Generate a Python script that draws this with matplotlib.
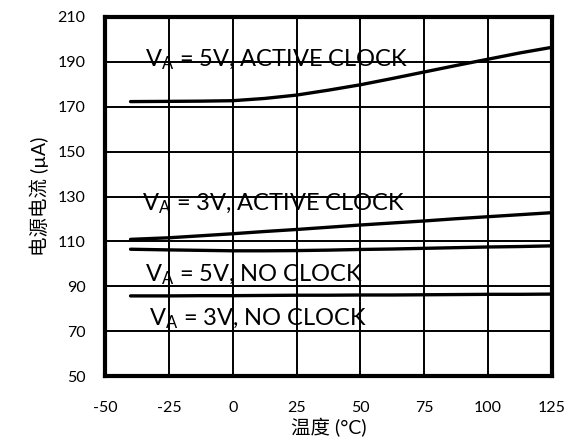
import numpy as np
import matplotlib
matplotlib.use("Agg")
import matplotlib.pyplot as plt

plt.rcParams['font.family'] = ['Lato', 'Noto Sans CJK SC', 'DejaVu Sans']
plt.rcParams['mathtext.fontset'] = 'custom'
plt.rcParams['mathtext.rm'] = 'Lato'
plt.rcParams['axes.unicode_minus'] = False

# temperature (°C) and supply current (µA)
temp = [-40, -25, -12.5, 0, 12.5, 25, 37.5, 50, 62.5, 75, 87.5, 100, 112.5, 125]
i_5v_active = [172.3, 172.4, 172.5, 172.7, 173.7, 175.2, 177.4, 179.8,
               182.6, 185.5, 188.4, 191.2, 194.0, 196.5]
i_3v_active = [110.9, 111.6, 112.5, 113.4, 114.4, 115.3, 116.3, 117.3,
               118.2, 119.1, 120.1, 121.0, 121.9, 122.8]
i_5v_noclk = [106.5, 106.2, 106.0, 105.8, 105.8, 105.9, 106.1, 106.4,
              106.6, 106.9, 107.2, 107.5, 107.7, 108.0]
i_3v_noclk = [85.7, 85.7, 85.8, 85.8, 85.9, 86.0, 86.0, 86.1,
              86.1, 86.2, 86.3, 86.4, 86.4, 86.5]

labels = ["$\\mathregular{V_A}$ = 5V, ACTIVE CLOCK",
          "$\\mathregular{V_A}$ = 3V, ACTIVE CLOCK",
          "$\\mathregular{V_A}$ = 5V, NO CLOCK",
          "$\\mathregular{V_A}$ = 3V, NO CLOCK"]
label_x = [-34.3, -35.7, -34.3, -32.6]
label_y = [187.9, 123.7, 92.1, 72.4]

xticks = [-50, -25, 0, 25, 50, 75, 100, 125]
yticks = [50, 70, 90, 110, 130, 150, 170, 190, 210]

fig = plt.figure(figsize=(5.74, 4.46), dpi=100)
ax = fig.add_axes([105 / 574, 70 / 446, 447 / 574, 359 / 446])

for series in [i_5v_active, i_3v_active, i_5v_noclk, i_3v_noclk]:
    ax.plot(temp, series, color='black', lw=2.4, solid_capstyle='round', zorder=3)

for lx, ly, lab in zip(label_x, label_y, labels):
    ax.text(lx, ly, lab, fontsize=17, ha='left', va='baseline', zorder=4)

ax.set_xlim(-50, 125)
ax.set_ylim(50, 210)
ax.set_xticks(xticks)
ax.set_yticks(yticks)
ax.tick_params(axis='x', length=0, labelsize=11.5, pad=18)
ax.tick_params(axis='y', length=0, labelsize=11.5, pad=14)
ax.grid(True, which='major', axis='both', color='black', linewidth=1.4)
for s in ax.spines.values():
    s.set_linewidth(3)
    s.set_zorder(5)

ax.set_xlabel("温度 (°C)", fontsize=14, labelpad=2)
ax.set_ylabel("电源电流 (µA)", fontsize=14, labelpad=6)

fig.savefig("out.png", dpi=100)
